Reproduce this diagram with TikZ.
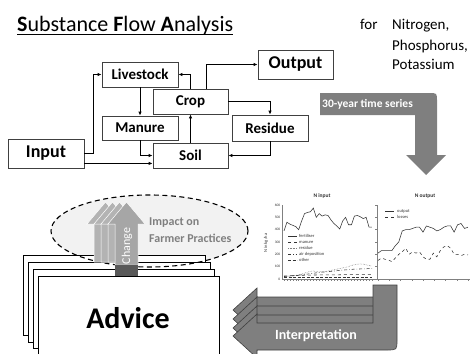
\documentclass[tikz,border=0pt]{standalone}
\usepackage{fontspec}
\setmainfont{Carlito}
\usetikzlibrary{arrows.meta,calc}
\definecolor{boxline}{HTML}{404040}
\definecolor{bigarrow}{HTML}{7F7F7F}
\definecolor{arrline}{HTML}{404040}
\definecolor{chg}{HTML}{B3B3B3}
\definecolor{chgfront}{HTML}{A6A6A6}
\definecolor{tabc}{HTML}{595959}
\definecolor{ellfill}{HTML}{F2F2F2}
\definecolor{impact}{HTML}{7F7F7F}
\definecolor{chartc}{HTML}{333333}
\begin{document}
\begin{tikzpicture}[x=1pt,y=-1pt,
  box/.style={draw=boxline,line width=0.8pt,fill=white,font=\bfseries\fontsize{15}{18}\selectfont,inner sep=0pt},
  bigbox/.style={box,font=\bfseries\fontsize{18}{21}\selectfont},
  arr/.style={draw=black,line width=0.9pt,-{Latex[length=4pt,width=3.5pt]}},
  page/.style={draw=black,line width=0.8pt,fill=white},
  tiny/.style={font=\fontsize{3.6}{4}\selectfont,text=chartc,inner sep=0.5pt},
  leg/.style={font=\fontsize{4.5}{5}\selectfont,text=chartc,inner sep=0pt,anchor=west},
  cline/.style={draw=chartc,line width=0.55pt},
  chartaxis/.style={draw=gray,line width=0.4pt},
  plain/.style={inner sep=0pt}]
\useasboundingbox (0,0) rectangle (473,353);

% ---------- title and substances ----------
\node[plain,anchor=base west,font=\fontsize{22}{25}\selectfont] (title) at (17,31.5)
  {\textbf{S}ubstance \textbf{F}low \textbf{A}nalysis};
\draw[line width=0.8pt] ($(title.base west)+(0,2.5)$) -- ($(title.base east)+(0,2.5)$);
\node[plain,anchor=base west,font=\fontsize{15}{18}\selectfont] (for) at (360,30) {for};
\node[plain,anchor=base west,font=\fontsize{15}{18}\selectfont] (nit) at (392,30) {Nitrogen,};
\node[plain,anchor=base west,font=\fontsize{15}{18}\selectfont] (pho) at (392,50) {Phosphorus,};
\node[plain,anchor=base west,font=\fontsize{15}{18}\selectfont] (pot) at (392,69) {Potassium};

% ---------- flow boxes ----------
\node[box,minimum width=76pt,minimum height=25pt] (live) at (140,74.5) {Livestock};
\node[box,minimum width=75pt,minimum height=25pt] (crop) at (190.5,101.5) {Crop};
\node[box,minimum width=76pt,minimum height=24pt] (manure) at (140,128) {Manure};
\node[box,minimum width=75pt,minimum height=25pt] (soil) at (190.5,155.5) {Soil};
\node[bigbox,minimum width=76pt,minimum height=29pt] (input) at (46,153.5) {Input};
\node[bigbox,minimum width=75pt,minimum height=29pt] (output) at (295.5,64.5) {Output};
\node[box,minimum width=76pt,minimum height=26pt] (residue) at (270,128) {Residue};

\draw[arr] (input.east) -- ++(9,0) |- (live.west);
\draw[arr] ($(input.south east)+(0,-5)$) -- ($(soil.south west)+(0,-5)$);
\draw[arr] (manure.south) |- (soil.west);
\draw[arr] (live.south) -- (manure.north);
\draw[arr] (crop.north) |- (live.east);
\draw[arr] (soil.north) -- (crop.south);
\draw[arr] ($(crop.north)+(15.5,0)$) |- (output.west);
\draw[arr] (crop.east) -| (residue.north);
\draw[arr] (residue.south) |- (soil.east);

% ---------- 30-year arrow ----------
\fill[bigarrow] (320,93) -- (429,93) .. controls (437,93) .. (437,101) -- (437,155) -- (446,155)
  -- (426,175) -- (406,155) -- (415,155) -- (415,115) -- (320,115) -- cycle;
\node[plain,anchor=west,text=white,font=\bfseries\fontsize{11.5}{13}\selectfont] (series) at (322,104) {30-year time series};

% ---------- N input chart ----------
\node[plain,font=\bfseries\fontsize{5.5}{6}\selectfont,text=chartc] (tin) at (322,196) {N input};
\draw[chartaxis] (282,205) -- (282,279) -- (376,279);
\foreach \v in {0,100,200,300,400,500,600}{
  \node[tiny,anchor=east] at (281,{279-\v*0.12333}) {\v};
}
\node[plain,rotate=90,font=\fontsize{4.5}{5}\selectfont,text=chartc] (ylab) at (266,243) {N in kg/ha};
\foreach \i in {0,...,30}{\draw[chartaxis] ({284+\i*2.933},279) -- ({284+\i*2.933},281);}
\begin{scope}[shift={(284,279)},xscale=2.933,yscale=-0.12333]
\draw[cline] plot coordinates {(0,390) (1,460) (2,445) (3,435) (4,425) (5,400) (6,470) (7,530) (8,540) (9,545) (10,575) (11,500) (12,530) (13,510) (14,520) (15,515) (16,480) (17,450) (18,430) (19,405) (20,470) (21,500) (22,440) (23,440) (24,510) (25,515) (26,505) (27,490) (28,500) (29,420) (30,420)};
\draw[cline,dashed] plot coordinates {(0,25) (3,27) (6,30) (9,32) (12,33) (15,34) (18,34) (21,35) (24,35) (27,35) (30,35)};
\draw[cline,densely dotted,draw=gray] plot coordinates {(0,20) (2,25) (4,30) (6,40) (8,55) (9,62) (10,65) (11,60) (12,58) (13,62) (14,60) (15,65) (16,70) (18,80) (20,90) (22,100) (23,110) (24,115) (25,120) (26,122) (27,120) (28,115) (29,110) (30,105)};
\draw[cline,dash dot] plot coordinates {(0,20) (4,28) (8,40) (12,53) (16,62) (20,72) (24,80) (27,82) (30,85)};
\draw[cline,dash pattern=on 3pt off 1.5pt] plot coordinates {(0,10) (30,10)};
\end{scope}
\draw[cline] (288,236) -- (297,236); \node[leg] at (299,236) {fertiliser};
\draw[cline,dashed] (288,242) -- (297,242); \node[leg] at (299,242) {manure};
\draw[cline,densely dotted,draw=gray] (288,248) -- (297,248); \node[leg] at (299,248) {residue};
\draw[cline,dash dot] (288,254) -- (297,254); \node[leg] at (299,254) {air deposition};
\draw[cline,dash pattern=on 3pt off 1.5pt] (288,260) -- (297,260); \node[leg] at (299,260) {other};

% ---------- N output chart ----------
\node[plain,font=\bfseries\fontsize{5.5}{6}\selectfont,text=chartc] (tout) at (425,196) {N output};
\draw[chartaxis] (377,205) -- (377,279) -- (470,279);
\foreach \v in {0,100,200,300,400,500,600}{\draw[chartaxis] (375,{279-\v*0.12333}) -- (377,{279-\v*0.12333});}
\foreach \i in {0,...,8}{\draw[chartaxis] ({378+\i*11.25},279) -- ({378+\i*11.25},281);}
\begin{scope}[shift={(378,279)},xscale=3.46,yscale=-0.12333]
\draw[cline] plot coordinates {(0,210) (1,230) (2,230) (3,230) (4,230) (5,270) (6,300) (7,390) (8,400) (9,400) (10,410) (11,420) (12,420) (13,380) (14,430) (15,420) (16,410) (17,390) (18,400) (19,420) (20,430) (21,430) (22,380) (23,440) (24,450) (25,410) (26,420)};
\draw[cline,dashed] plot coordinates {(0,150) (1,170) (2,160) (3,155) (4,140) (5,170) (6,200) (7,220) (8,250) (9,200) (10,220) (11,210) (12,220) (13,180) (14,160) (15,160) (16,210) (17,180) (18,230) (19,260) (20,270) (21,250) (22,200) (23,200) (24,190) (25,200) (26,195)};
\end{scope}
\draw[cline] (385,211) -- (394,211); \node[leg] at (397,211) {output};
\draw[cline,dashed] (385,217) -- (394,217); \node[leg] at (397,217) {losses};

% ---------- Interpretation arrow ----------
\foreach \t in {297,306,315}{
  \filldraw[fill=bigarrow,draw=arrline,line width=0.6pt] (233,\t+13) -- (257,\t-9) -- (257,\t) -- (385,\t)
    -- (385,\t+26) -- (257,\t+26) -- (257,\t+35) -- cycle;
}
\filldraw[fill=bigarrow,draw=arrline,line width=0.6pt] (373,285) -- (397,285) -- (397,340) .. controls (397,350) .. (387,350)
  -- (257,350) -- (257,358) -- (233,336) -- (257,314) -- (257,323) -- (373,323) -- cycle;
\node[plain,text=white,font=\bfseries\fontsize{14}{16}\selectfont] (interp) at (316,336) {Interpretation};

% ---------- Advice and change ----------
\fill[ellfill] (149.5,231) ellipse [x radius=98.5pt, y radius=36pt];
\draw[page] (23,255) rectangle (205,335);
\draw[page] (28,262) rectangle (210,342);
\draw[page] (33,269) rectangle (214,348);
\draw[page] (38,276) rectangle (219,362);
\node[plain,font=\bfseries\fontsize{30}{34}\selectfont] (advice) at (128,318) {Advice};
\draw[dashed,line width=1.1pt,dash pattern=on 5pt off 3.5pt] (149.5,231) ellipse [x radius=98.5pt, y radius=36pt];

\foreach \dx in {-21,-14,-7}{
  \filldraw[fill=chg,draw=white,line width=0.5pt] (115+\dx,262) -- (115+\dx,224) -- (108+\dx,224) -- (126.5+\dx,202)
    -- (145+\dx,224) -- (138+\dx,224) -- (138+\dx,262) -- cycle;
}
\filldraw[fill=chgfront,draw=white,line width=0.5pt] (115,265) -- (115,224) -- (108,224) -- (126.5,202)
    -- (145,224) -- (138,224) -- (138,265) -- cycle;
\fill[tabc] (115,265) rectangle (138,276);
\node[plain,rotate=90,text=white,font=\fontsize{12}{14}\selectfont] (change) at (127,246) {Change};
\node[plain,anchor=west,text=impact,font=\bfseries\fontsize{12}{14}\selectfont] (imp1) at (149,223) {Impact on};
\node[plain,anchor=west,text=impact,font=\bfseries\fontsize{12}{14}\selectfont] (imp2) at (149,238) {Farmer Practices};
\end{tikzpicture}
\end{document}
